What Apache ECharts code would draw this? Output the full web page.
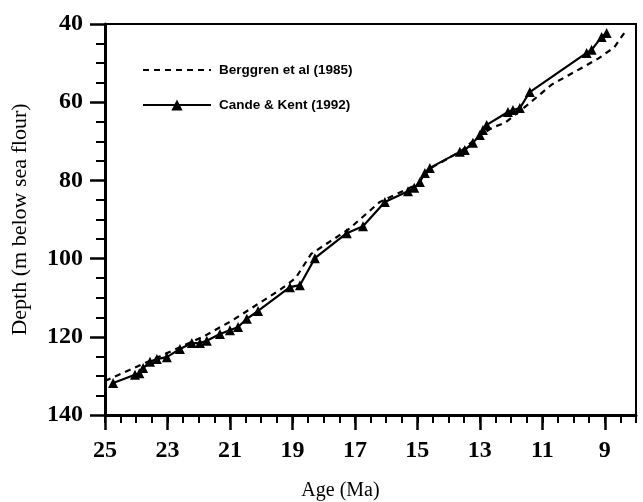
<!DOCTYPE html>
<html>
<head>
<meta charset="utf-8">
<script src="https://cdn.jsdelivr.net/npm/echarts@6/dist/echarts.min.js"></script>
<style>
  html, body { margin: 0; padding: 0; background: #fff; }
  #chart { width: 643px; height: 502px; }
</style>
</head>
<body>
<div id="chart"></div>
<script>
// Berggren et al (1985) - dashed age model
const berggrenAge = [25, 21.86, 20.9, 19.4, 18.9, 18.4, 17.2, 16.2, 15.0, 14.6, 13.6, 13.0, 12.6, 12.2, 11.4, 10.7, 9.8, 9.2, 8.7, 8.35]
const berggrenDepth = [131.3, 120, 115.7, 108, 105, 98.8, 92.5, 85.5, 81, 77, 72.5, 68.5, 66.5, 65.3, 60.2, 55.5, 51.5, 48.8, 46, 42]

// Cande & Kent (1992) - solid with triangles
const candeAge = [24.74, 24.04, 23.9, 23.78, 23.56, 23.34, 23.02, 22.6, 22.22, 21.96, 21.74, 21.32, 21.0, 20.74, 20.46, 20.1,
  19.08, 18.76, 18.28, 17.26, 16.74, 16.04, 15.3, 15.1, 14.92, 14.76, 14.6, 13.64, 13.48, 13.22, 13.0, 12.9, 12.78,
  12.1, 11.94, 11.72, 11.4, 9.58, 9.42, 9.1, 8.94]
const candeDepth = [131.8, 129.7, 129.3, 128.0, 126.4, 125.7, 125.2, 123.1, 121.6, 121.6, 121.0, 119.3, 118.3, 117.5, 115.4, 113.4,
  107.3, 106.8, 99.9, 93.5, 91.7, 85.5, 82.8, 81.9, 80.4, 78.1, 76.8, 72.7, 72.2, 70.4, 68.4, 67.1, 65.8,
  62.5, 62.0, 61.5, 57.4, 47.4, 46.6, 43.3, 42.3]

const ageLabels = [25, 23, 21, 19, 17, 15, 13, 11, 9]

const serif = "'Liberation Serif', 'Times New Roman', serif"
const narrow = "'Liberation Sans Narrow', 'Arial Narrow', 'Liberation Sans', sans-serif"

const zip = (a, b) => a.map((v, i) => [v, b[i]])

const chart = echarts.init(document.getElementById('chart'))
chart.setOption({
  animation: false,
  backgroundColor: '#fff',
  grid: {
    left: 105,
    right: 7,
    top: 24,
    bottom: 87,
    outerBoundsMode: 'none',
    containLabel: false,
    show: true,
    borderColor: '#000',
    borderWidth: 2,
  },
  legend: {
    orient: 'vertical',
    left: 137,
    top: 58,
    itemWidth: 68,
    itemHeight: 14,
    itemGap: 21,
    data: [
      { name: 'Berggren et al (1985)', itemStyle: { opacity: 0 } },
      { name: 'Cande & Kent (1992)' },
    ],
    textStyle: {
      fontFamily: narrow,
      fontWeight: 'bold',
      fontSize: 13.5,
      color: '#000',
      padding: [0, 0, 0, 3],
    },
  },
  xAxis: [
    {
      type: 'value',
      inverse: true,
      min: 8,
      max: 25,
      position: 'bottom',
      name: 'Age (Ma)',
      nameLocation: 'middle',
      nameGap: 66,
      nameTextStyle: {
        fontFamily: serif,
        fontSize: 20,
        color: '#000',
        padding: [0, 60, 0, 0],
      },
      axisLine: { lineStyle: { color: '#000', width: 3 } },
      axisTick: {
        customValues: ageLabels,
        length: 15,
        lineStyle: { color: '#000', width: 2.5 },
      },
      axisLabel: {
        customValues: ageLabels,
        margin: 24,
        fontFamily: serif,
        fontWeight: 'bold',
        fontSize: 24,
        color: '#000',
      },
      splitLine: { show: false },
    },
    {
      type: 'value',
      inverse: true,
      min: 8,
      max: 25,
      interval: 0.5,
      position: 'bottom',
      axisLine: { show: false },
      axisTick: { length: 8, lineStyle: { color: '#000', width: 2 } },
      axisLabel: { show: false },
      splitLine: { show: false },
    },
  ],
  yAxis: {
    type: 'value',
    inverse: true,
    min: 40,
    max: 140,
    interval: 20,
    name: 'Depth (m below sea flour)',
    nameLocation: 'middle',
    nameGap: 74,
    nameTextStyle: {
      fontFamily: serif,
      fontSize: 22,
      color: '#000',
    },
    axisLine: { lineStyle: { color: '#000', width: 3 } },
    axisTick: { length: 15, lineStyle: { color: '#000', width: 2.5 } },
    minorTick: { show: true, splitNumber: 4, length: 9, lineStyle: { color: '#000', width: 2 } },
    axisLabel: {
      margin: 22,
      fontFamily: serif,
      fontWeight: 'bold',
      fontSize: 24,
      color: '#000',
    },
    splitLine: { show: false },
    minorSplitLine: { show: false },
  },
  series: [
    {
      name: 'Berggren et al (1985)',
      type: 'line',
      data: zip(berggrenAge, berggrenDepth),
      showSymbol: false,
      symbol: 'none',
      color: '#000',
      lineStyle: { color: '#000', width: 2.2, type: [6, 5] },
      z: 2,
    },
    {
      name: 'Cande & Kent (1992)',
      type: 'line',
      data: zip(candeAge, candeDepth),
      symbol: 'triangle',
      symbolSize: 10,
      color: '#000',
      itemStyle: { color: '#000' },
      lineStyle: { color: '#000', width: 2.2 },
      z: 3,
    },
  ],
})
</script>
</body>
</html>
